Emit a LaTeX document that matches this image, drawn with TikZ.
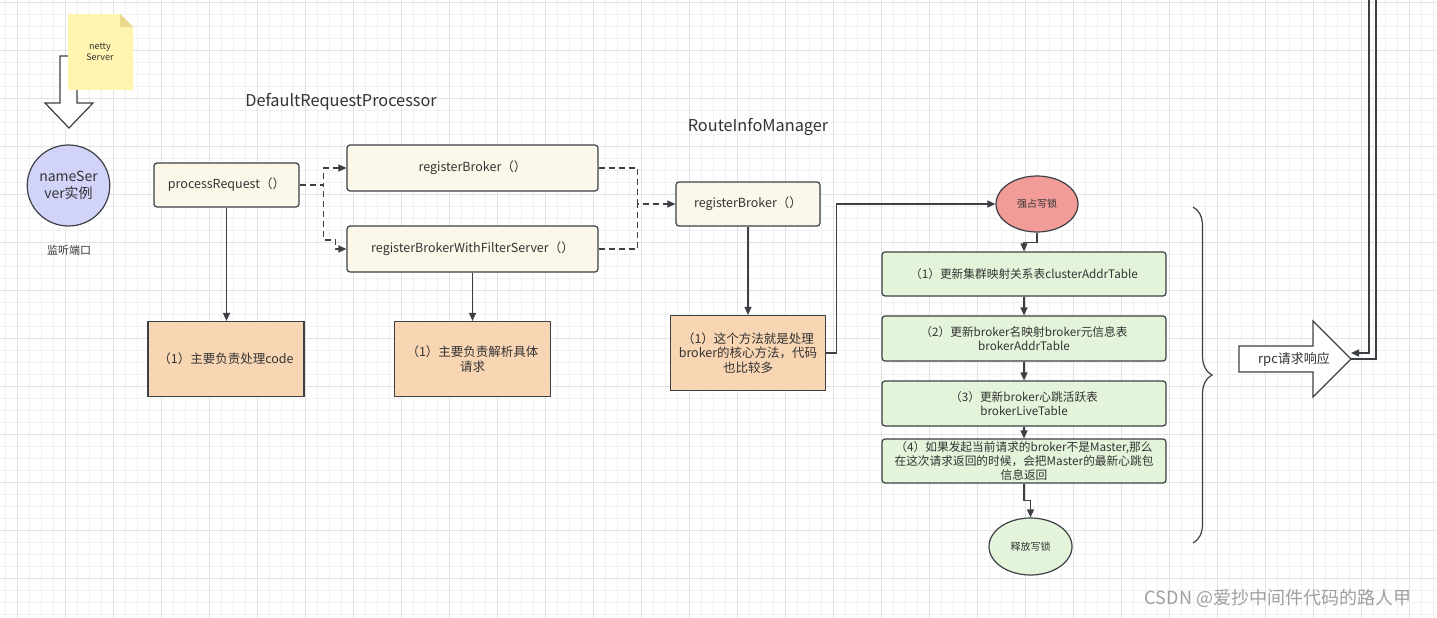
\documentclass[tikz,border=0pt]{standalone}
\usepackage{fontspec}
\setmainfont{Noto Sans CJK SC}
\usetikzlibrary{arrows.meta,shapes.geometric,decorations.pathreplacing}

\definecolor{textgray}{HTML}{333333}
\definecolor{linegray}{HTML}{3C3F44}
\definecolor{creamfill}{HTML}{FBF8EA}
\definecolor{orangefill}{HTML}{F8D5B3}
\definecolor{greenfill}{HTML}{E3F4DA}
\definecolor{redfill}{HTML}{F19C99}
\definecolor{lavender}{HTML}{D1D4F8}
\definecolor{notefill}{HTML}{FFF4B0}
\definecolor{notefold}{HTML}{E8D98C}
\definecolor{minorgrid}{HTML}{F0F0F0}
\definecolor{majorgrid}{HTML}{E2E2E2}

\begin{document}
\begin{tikzpicture}[
    x=1pt, y=-1pt,
    every node/.style={text=textgray, font=\fontsize{12.5}{14.5}\selectfont},
    method/.style={draw=linegray, line width=1.2pt, fill=creamfill,
      rounded corners=3pt, minimum height=44pt, inner sep=0pt},
    remark/.style={draw=linegray, line width=1.2pt, fill=orangefill,
      minimum width=156pt, minimum height=75pt, align=center, inner sep=0pt},
    update/.style={draw=linegray, line width=1.2pt, fill=greenfill,
      rounded corners=3pt, minimum width=284pt, minimum height=44pt,
      align=center, inner sep=0pt, font=\fontsize{11.7}{14}\selectfont},
    lockstate/.style={ellipse, draw=linegray, line width=1.2pt, inner sep=0pt,
      font=\fontsize{10}{12}\selectfont},
    flow/.style={draw=linegray, line width=1.2pt, -{Triangle[length=8pt,width=7pt]}},
    dashflow/.style={flow, dash pattern=on 6pt off 4pt},
    title/.style={font=\fontsize{16.3}{19}\selectfont},
  ]
  \useasboundingbox (0,0) rectangle (1437,618);
  \fill[white] (0,0) rectangle (1437,618);

  % grid
  \foreach \x in {5,17,...,1437} \draw[minorgrid, line width=0.8pt] (\x,0) -- (\x,618);
  \foreach \y in {2,14,...,618} \draw[minorgrid, line width=0.8pt] (0,\y) -- (1437,\y);
  \foreach \x in {17,65,...,1437} \draw[majorgrid, line width=0.9pt] (\x,0) -- (\x,618);
  \foreach \y in {2,50,...,618} \draw[majorgrid, line width=0.9pt] (0,\y) -- (1437,\y);

  % netty server into the name server
  \draw[linegray, line width=1.2pt, fill=white] (60,56) -- (77,56) -- (77,103) -- (93,103)
    -- (69,128) -- (45,103) -- (60,103) -- cycle;
  \fill[notefill] (68,14) -- (120,14) -- (133,27) -- (133,90) -- (68,90) -- cycle;
  \fill[notefold] (120,14) -- (133,27) -- (120,27) -- cycle;
  \node[font=\fontsize{9}{11}\selectfont, align=center] (netty) at (100,52) {netty\\Server};
  \node[ellipse, draw=linegray, line width=1.2pt, fill=lavender, minimum width=77pt,
    minimum height=81pt, inner sep=0pt, align=center,
    font=\fontsize{14}{17}\selectfont] (ns) at (68.5,185.5) {nameSer\\ver实例};
  \node[font=\fontsize{11}{13}\selectfont] (port) at (69,250) {监听端口};

  % DefaultRequestProcessor
  \node[title] (drp) at (341,102) {DefaultRequestProcessor};
  \node[method, minimum width=145pt] (proc) at (226.5,185) {processRequest（）};
  \node[method, minimum width=251pt, minimum height=46pt] (reg) at (472.5,168) {registerBroker（）};
  \node[method, minimum width=251pt, minimum height=46pt] (regfs) at (472.5,249)
    {registerBrokerWithFilterServer（）};
  \node[remark] (procnote) at (226,359) {（1）主要负责处理code};
  \node[remark] (regnote) at (472.5,359) {（1）主要负责解析具体\\请求};

  \draw[dashflow] (proc.east) -- ++(24,0) |- (reg.west);
  \draw[dashflow] (proc.east) -- ++(24,0) -- ++(0,55) -- ++(12,0) |- (regfs.west);
  \draw[flow] (proc.south) -- (proc.south |- procnote.north);
  \draw[flow] (regfs.south) -- (regfs.south |- regnote.north);

  % RouteInfoManager
  \node[title] (rim) at (758,127) {RouteInfoManager};
  \node[method, minimum width=144pt] (route) at (748,204) {registerBroker（）};
  \node[remark, minimum width=155pt] (routenote) at (748,353)
    {（1）这个方法就是处理\\broker的核心方法，代码\\也比较多};

  \draw[dashflow] (reg.east) -- ++(39,0) |- (route.west);
  \draw[draw=linegray, line width=1.2pt, dash pattern=on 6pt off 4pt]
    (regfs.east) -- ++(39,0) coordinate (fsjoin) -- (fsjoin |- route.west);
  \draw[flow] (route.south) -- (route.south |- routenote.north);

  % write lock
  \node[lockstate, fill=redfill, minimum width=82pt, minimum height=56pt] (lock) at (1037,204) {强占写锁};
  \node[update] (upd1) at (1024,274) {（1）更新集群映射关系表clusterAddrTable};
  \node[update, minimum height=45pt] (upd2) at (1024,338.5) {（2）更新broker名映射broker元信息表\\brokerAddrTable};
  \node[update, minimum height=45pt] (upd3) at (1024,403.5) {（3）更新broker心跳活跃表\\brokerLiveTable};
  \node[update] (upd4) at (1024,461)
    {（4）如果发起当前请求的broker不是Master,那么\\在这次请求返回的时候，会把Master的最新心跳包\\信息返回};
  \node[lockstate, fill=greenfill, minimum width=83pt, minimum height=57pt] (unlock) at (1030.5,546.5) {释放写锁};

  \draw[flow] (routenote.east) -- ++(10,0) |- (lock.west);
  \draw[flow] (lock.south) -- ++(0,10) -| (upd1.north);
  \draw[flow] (upd1.south) -- (upd2.north);
  \draw[flow] (upd2.south) -- (upd3.north);
  \draw[flow] (upd3.south) -- (upd4.north);
  \draw[flow] (upd4.south) -- ++(0,17) -| (unlock.north);

  % brace and rpc response
  \draw[linegray, line width=1.2pt, decorate, decoration={brace, amplitude=19pt, aspect=0.5}]
    (1193,207) -- (1193,543);
  \draw[linegray, line width=1.2pt, fill=white] (1239,346) -- (1313,346) -- (1313,321)
    -- (1351,359) -- (1313,397) -- (1313,372) -- (1239,372) -- cycle;
  \node[font=\fontsize{13}{15}\selectfont] (rpc) at (1294,359) {rpc请求响应};
  \coordinate (rpctip) at (1351,359);
  \coordinate (backin) at (1369,0);
  \coordinate (backout) at (1376,0);
  \draw[linegray, line width=1.2pt] (backout) |- (rpctip);
  \draw[flow] (backin) |- ([yshift=6pt]rpctip);

  % watermark
  \node[text=gray!75, font=\fontsize{18}{20}\selectfont] (mark) at (1278,598) {CSDN @爱抄中间件代码的路人甲};
\end{tikzpicture}
\end{document}
